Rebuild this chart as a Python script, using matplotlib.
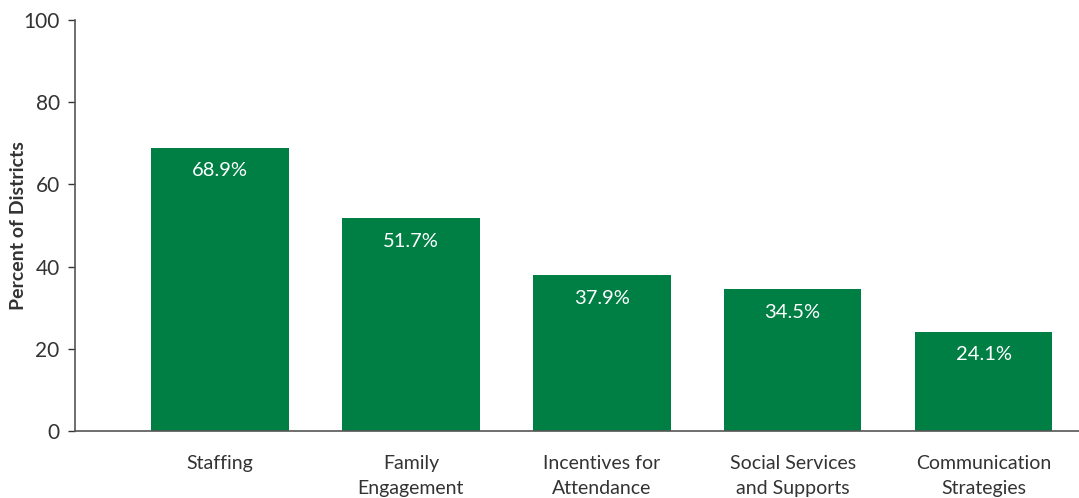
import matplotlib.pyplot as plt

plt.rcParams['font.family'] = ['Lato', 'DejaVu Sans']

categories = ["Staffing", "Family\nEngagement", "Incentives for\nAttendance",
              "Social Services\nand Supports", "Communication\nStrategies"]
percents = [68.9, 51.7, 37.9, 34.5, 24.1]
yticks = [0, 20, 40, 60, 80, 100]

green = "#007f45"
grey = "#333333"

fig = plt.figure(figsize=(10.79, 4.98), dpi=100)
ax = fig.add_axes([0.0695, 0.1345, 0.9305, 0.8255])

x = list(range(len(categories)))
bars = ax.bar(x, percents, width=0.72, color=green, zorder=2)

# value labels just inside the top of each bar
for b, v in zip(bars, percents):
    ax.annotate(f"{v}%", (b.get_x() + b.get_width() / 2, v),
                xytext=(0, -23), textcoords="offset pixels",
                ha="center", va="center", color="white", fontsize=14.5)

ax.set_xlim(-0.76, 4.5)
ax.set_ylim(0, 100)
ax.set_yticks(yticks)
ax.set_xticks(x)
ax.set_xticklabels(categories, fontsize=14, color=grey, linespacing=1.6, va="top")
ax.tick_params(axis="x", length=0, pad=17)
ax.tick_params(axis="y", length=5, width=1, color=grey, labelsize=15,
               labelcolor=grey, pad=6)

fig.text(0.017, 0.548, "Percent of Districts", rotation=90, ha="center", va="center",
         fontsize=14, fontweight="bold", color=grey)

for s in ["top", "right"]:
    ax.spines[s].set_visible(False)
for s in ["left", "bottom"]:
    ax.spines[s].set_color("#555555")
    ax.spines[s].set_linewidth(1.2)

fig.savefig("out.png", dpi=100)
